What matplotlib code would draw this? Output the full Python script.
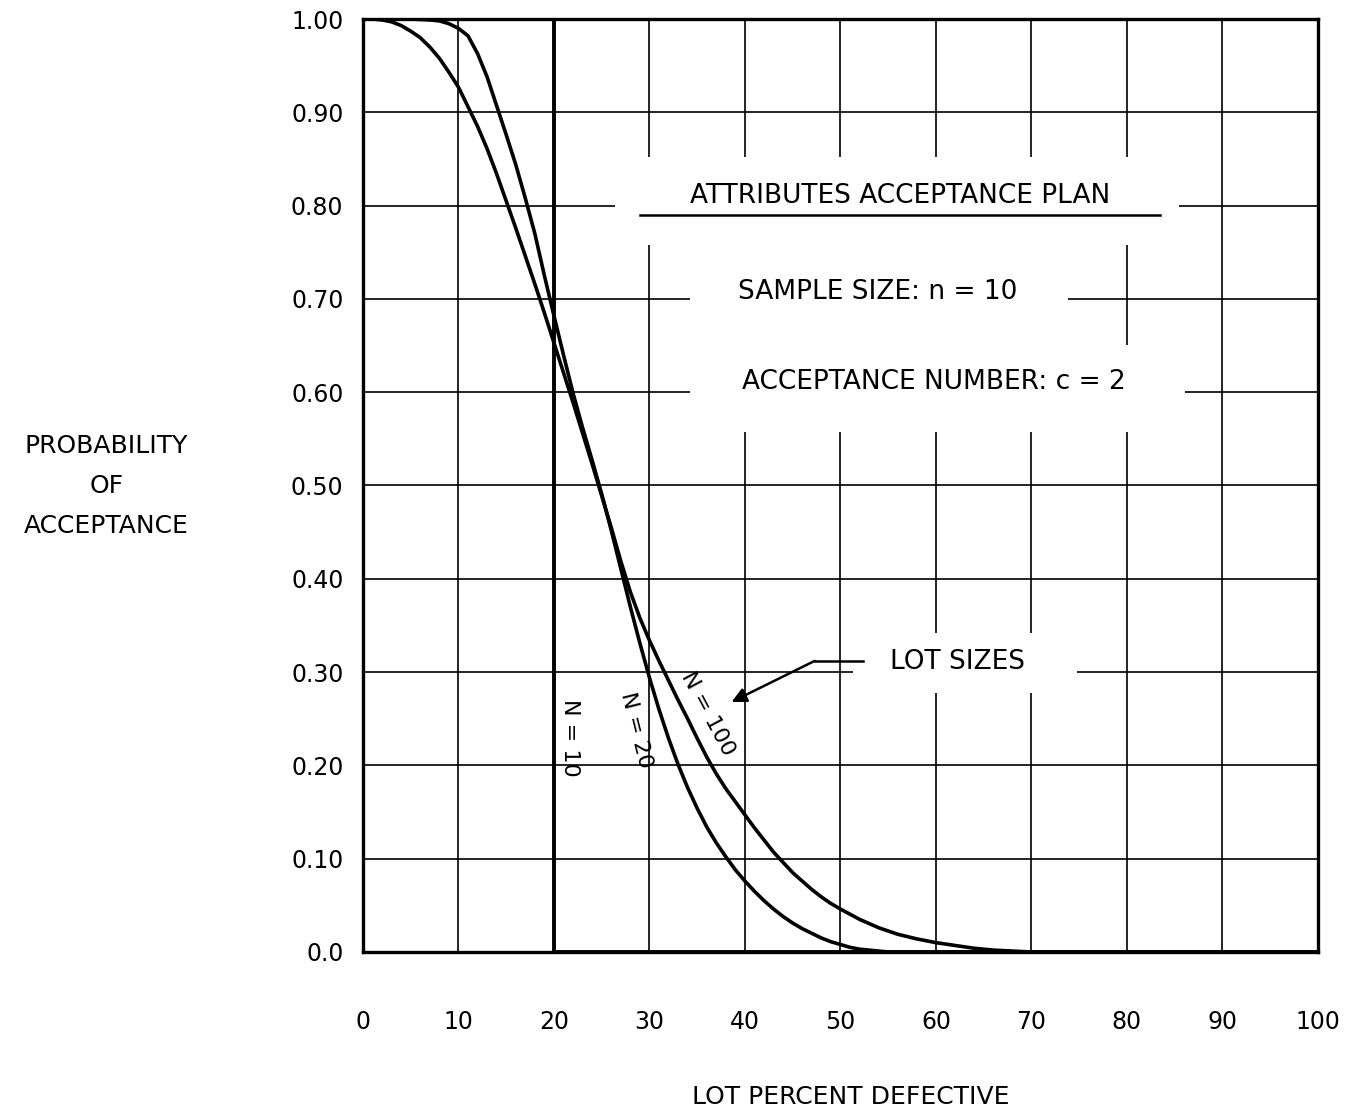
import numpy as np
import matplotlib
matplotlib.use('Agg')
import matplotlib.pyplot as plt
from matplotlib.patches import Rectangle

# values (lot percent defective, probability of acceptance)
pct_n100 = [0, 1, 2, 3, 4, 5, 6, 7, 8, 9, 10, 11, 12, 13, 14, 15, 16, 17, 18, 19,
            20, 21, 22, 23, 24, 25, 26, 27, 28, 29, 30, 31, 32, 33, 34, 35, 36,
            37, 38, 39, 40, 41, 42, 43, 44, 45, 46, 47, 48, 49, 50, 52, 54, 56,
            58, 60, 62, 64, 66, 68, 70, 100]
pa_n100 = [1.000, 1.000, 0.999, 0.997, 0.993, 0.987, 0.980, 0.970, 0.958, 0.943,
           0.927, 0.906, 0.885, 0.861, 0.834, 0.805, 0.776, 0.746, 0.716, 0.685,
           0.653, 0.621, 0.589, 0.556, 0.523, 0.489, 0.455, 0.419, 0.386, 0.358,
           0.334, 0.312, 0.291, 0.270, 0.250, 0.229, 0.209, 0.191, 0.175, 0.161,
           0.147, 0.133, 0.120, 0.107, 0.096, 0.085, 0.076, 0.067, 0.059, 0.052,
           0.046, 0.035, 0.026, 0.019, 0.014, 0.010, 0.007, 0.004, 0.002, 0.001,
           0.000, 0.000]

pct_n20 = [0, 5, 7, 8, 9, 10, 11, 12, 13, 14, 15, 16, 17, 18, 19, 20, 21, 22, 23,
           24, 25, 26, 27, 28, 29, 30, 31, 32, 33, 34, 35, 36, 37, 38, 39, 40,
           41, 42, 43, 44, 45, 46, 47, 48, 49, 50, 51, 52, 53, 54, 55, 100]
pa_n20 = [1.000, 1.000, 0.999, 0.998, 0.995, 0.990, 0.982, 0.963, 0.938, 0.907,
          0.876, 0.844, 0.808, 0.770, 0.725, 0.682, 0.640, 0.599, 0.562, 0.527,
          0.491, 0.452, 0.411, 0.370, 0.331, 0.294, 0.260, 0.229, 0.201, 0.176,
          0.154, 0.134, 0.117, 0.102, 0.088, 0.076, 0.065, 0.055, 0.046, 0.038,
          0.031, 0.025, 0.020, 0.015, 0.011, 0.008, 0.005, 0.003, 0.002, 0.001,
          0.000, 0.000]

# N = 10: whole lot inspected, accepted up to 20 % defective
pct_n10 = [0, 20, 20, 100]
pa_n10 = [1.0, 1.0, 0.0, 0.0]

x_ticks = list(range(0, 101, 10))
x_labels = [str(v) for v in x_ticks]
y_ticks = [round(0.1 * i, 1) for i in range(11)]
y_labels = ['0.0', '0.10', '0.20', '0.30', '0.40', '0.50', '0.60', '0.70',
            '0.80', '0.90', '1.00']

plt.rcParams['font.family'] = ['DejaVu Sans']

fig = plt.figure(figsize=(13.67, 11.12), dpi=100)
ax = fig.add_axes([0.2655, 0.1439, 0.6986, 0.8390])

ax.set_xlim(0, 100)
ax.set_ylim(0, 1)
ax.set_xticks(x_ticks)
ax.set_xticklabels(x_labels)
ax.set_yticks(y_ticks)
ax.set_yticklabels(y_labels)
ax.tick_params(length=0, labelsize=17)
ax.tick_params(axis='x', pad=42)
ax.tick_params(axis='y', pad=14)
ax.set_axisbelow(True)
ax.grid(True, color='black', linewidth=1.2)
for sp in ax.spines.values():
    sp.set_linewidth(2.4)

# white blanks behind the lettering that break the grid
blanks = [(26.4, 0.758, 59.1, 0.094),
          (34.2, 0.651, 39.6, 0.107),
          (34.2, 0.557, 51.9, 0.094),
          (51.3, 0.278, 23.5, 0.064)]
for bx, by, bw, bh in blanks:
    ax.add_patch(Rectangle((bx, by), bw, bh, facecolor='white',
                           edgecolor='none', zorder=1))

ax.plot(pct_n100, pa_n100, color='black', linewidth=2.6, zorder=3)
ax.plot(pct_n20, pa_n20, color='black', linewidth=2.6, zorder=3)
ax.plot(pct_n10, pa_n10, color='black', linewidth=2.8, zorder=3)

ax.text(56.2, 0.81, 'ATTRIBUTES ACCEPTANCE PLAN', fontsize=19,
        ha='center', va='center', zorder=4)
ax.plot([29.0, 83.5], [0.790, 0.790], color='black', linewidth=1.8, zorder=4)
ax.text(53.9, 0.707, 'SAMPLE SIZE: n = 10', fontsize=19,
        ha='center', va='center', zorder=4)
ax.text(59.8, 0.611, 'ACCEPTANCE NUMBER: c = 2', fontsize=19,
        ha='center', va='center', zorder=4)
ax.text(62.3, 0.311, 'LOT SIZES', fontsize=19,
        ha='center', va='center', zorder=4)

# leader from LOT SIZES to the curves
ax.plot([52.4, 47.3], [0.312, 0.312], color='black', linewidth=1.8, zorder=4)
ax.annotate('', xy=(38.6, 0.268), xytext=(47.3, 0.312),
            arrowprops=dict(arrowstyle='-|>', color='black', lw=1.8,
                            mutation_scale=22, shrinkA=0, shrinkB=0),
            zorder=4)

ax.text(21.7, 0.229, 'N = 10', fontsize=16, rotation=-90,
        ha='center', va='center', zorder=4)
ax.text(28.6, 0.238, 'N = 20', fontsize=16, rotation=-76,
        ha='center', va='center', zorder=4)
ax.text(36.1, 0.255, 'N = 100', fontsize=16, rotation=-62,
        ha='center', va='center', zorder=4)

fig.text(0.078, 0.563, 'PROBABILITY\nOF\nACCEPTANCE', fontsize=18,
         ha='center', va='center', linespacing=1.85)
fig.text(0.622, 0.0135, 'LOT PERCENT DEFECTIVE', fontsize=18,
         ha='center', va='center')

fig.savefig('out.png', dpi=100, facecolor='white')
